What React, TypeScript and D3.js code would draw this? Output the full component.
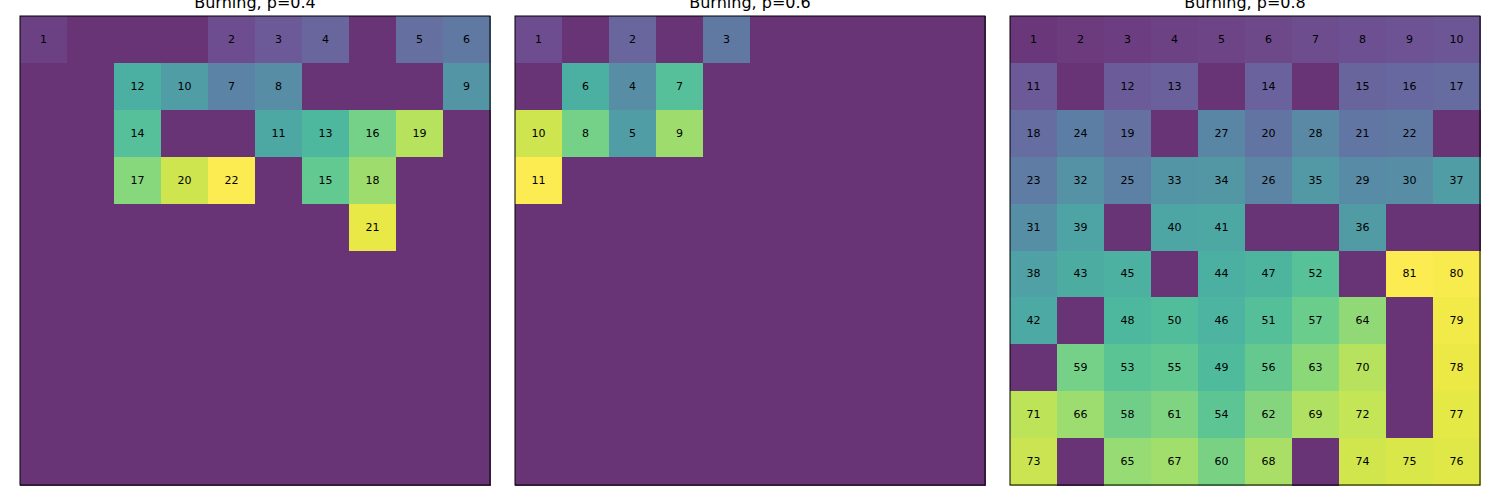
import { useEffect, useRef } from 'react';
import * as d3 from 'd3';

// Burn order per cell (0 = not burned), row by row
const titles = ['Burning, p=0.4', 'Burning, p=0.6', 'Burning, p=0.8'];

const gridP04 = [
    [1, 0, 0, 0, 2, 3, 4, 0, 5, 6],
    [0, 0, 12, 10, 7, 8, 0, 0, 0, 9],
    [0, 0, 14, 0, 0, 11, 13, 16, 19, 0],
    [0, 0, 17, 20, 22, 0, 15, 18, 0, 0],
    [0, 0, 0, 0, 0, 0, 0, 21, 0, 0],
    [0, 0, 0, 0, 0, 0, 0, 0, 0, 0],
    [0, 0, 0, 0, 0, 0, 0, 0, 0, 0],
    [0, 0, 0, 0, 0, 0, 0, 0, 0, 0],
    [0, 0, 0, 0, 0, 0, 0, 0, 0, 0],
    [0, 0, 0, 0, 0, 0, 0, 0, 0, 0],
];

const gridP06 = [
    [1, 0, 2, 0, 3, 0, 0, 0, 0, 0],
    [0, 6, 4, 7, 0, 0, 0, 0, 0, 0],
    [10, 8, 5, 9, 0, 0, 0, 0, 0, 0],
    [11, 0, 0, 0, 0, 0, 0, 0, 0, 0],
    [0, 0, 0, 0, 0, 0, 0, 0, 0, 0],
    [0, 0, 0, 0, 0, 0, 0, 0, 0, 0],
    [0, 0, 0, 0, 0, 0, 0, 0, 0, 0],
    [0, 0, 0, 0, 0, 0, 0, 0, 0, 0],
    [0, 0, 0, 0, 0, 0, 0, 0, 0, 0],
    [0, 0, 0, 0, 0, 0, 0, 0, 0, 0],
];

const gridP08 = [
    [1, 2, 3, 4, 5, 6, 7, 8, 9, 10],
    [11, 0, 12, 13, 0, 14, 0, 15, 16, 17],
    [18, 24, 19, 0, 27, 20, 28, 21, 22, 0],
    [23, 32, 25, 33, 34, 26, 35, 29, 30, 37],
    [31, 39, 0, 40, 41, 0, 0, 36, 0, 0],
    [38, 43, 45, 0, 44, 47, 52, 0, 81, 80],
    [42, 0, 48, 50, 46, 51, 57, 64, 0, 79],
    [0, 59, 53, 55, 49, 56, 63, 70, 0, 78],
    [71, 66, 58, 61, 54, 62, 69, 72, 0, 77],
    [73, 0, 65, 67, 60, 68, 0, 74, 75, 76],
];

const grids = [gridP04, gridP06, gridP08];

export default function App() {
    const svgRef = useRef<SVGSVGElement>(null);

    useEffect(() => {
        if (!svgRef.current) return;
        const svg = d3.select(svgRef.current);
        svg.selectAll('*').remove();

        const panelLeft = [20, 515, 1010];
        const top = 16;
        const size = 470;
        const n = 10;

        grids.forEach((grid, gi) => {
            const maxV = d3.max(grid.flat()) || 1;
            const scale = d3.scaleSequential(d3.interpolateViridis).domain([0, maxV]);
            // viridis at alpha 0.8 over white, made opaque so overlaps don't show
            const color = (v: number) => d3.interpolateRgb('#ffffff', scale(v))(0.8);
            const x = d3.scaleBand<number>().domain(d3.range(n)).range([0, size]);
            const y = d3.scaleBand<number>().domain(d3.range(n)).range([0, size - 1]);

            const g = svg.append('g')
                .attr('transform', `translate(${panelLeft[gi]},${top})`);

            const cells = grid.flatMap((row, r) => row.map((v, c) => ({ r, c, v })));

            g.selectAll('rect.cell')
                .data(cells)
                .enter()
                .append('rect')
                .attr('class', 'cell')
                .attr('x', d => x(d.c) || 0)
                .attr('y', d => y(d.r) || 0)
                .attr('width', x.bandwidth() + 0.5)
                .attr('height', y.bandwidth() + 0.5)
                .attr('fill', d => color(d.v))
                .attr('shape-rendering', 'crispEdges');

            g.selectAll('text.label')
                .data(cells.filter(d => d.v > 0))
                .enter()
                .append('text')
                .attr('class', 'label')
                .attr('x', d => (x(d.c) || 0) + x.bandwidth() / 2)
                .attr('y', d => (y(d.r) || 0) + y.bandwidth() / 2)
                .attr('text-anchor', 'middle')
                .attr('dominant-baseline', 'central')
                .style('font-family', 'DejaVu Sans, sans-serif')
                .style('font-size', '11px')
                .style('fill', '#000')
                .text(d => d.v);

            // Frame
            g.append('rect')
                .attr('x', 0)
                .attr('y', 0)
                .attr('width', size)
                .attr('height', size - 1)
                .attr('fill', 'none')
                .attr('stroke', '#000')
                .attr('stroke-width', 1);

            svg.append('text')
                .attr('x', panelLeft[gi] + size / 2)
                .attr('y', 8)
                .attr('text-anchor', 'middle')
                .style('font-family', 'DejaVu Sans, sans-serif')
                .style('font-size', '16px')
                .style('fill', '#000')
                .text(titles[gi]);
        });
    }, []);

    return (
        <svg
            ref={svgRef}
            width={1500}
            height={500}
            style={{ position: 'absolute', left: 0, top: 0, background: '#fff' }}
        />
    );
}
